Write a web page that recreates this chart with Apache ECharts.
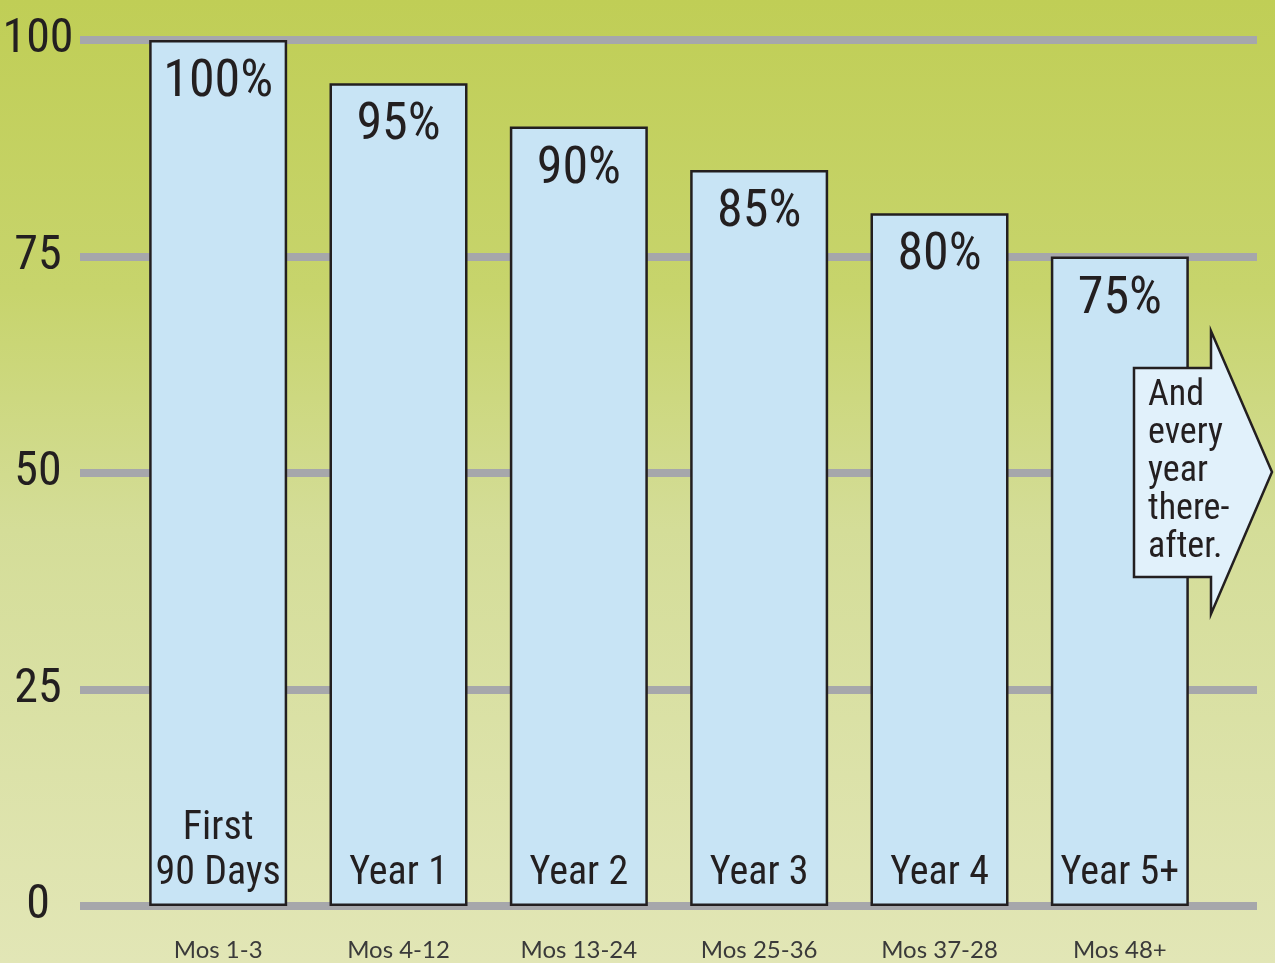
<!DOCTYPE html>
<html>
<head>
<meta charset="utf-8">
<script src="https://cdn.jsdelivr.net/npm/echarts@6/dist/echarts.min.js"></script>
<style>
html,body{margin:0;padding:0;}
#chart{width:1275px;height:963px;}
</style>
</head>
<body>
<div id="chart"></div>
<script>
var months = ['Mos 1-3', 'Mos 4-12', 'Mos 13-24', 'Mos 25-36', 'Mos 37-28', 'Mos 48+'];
var periods = ['First\n90 Days', 'Year 1', 'Year 2', 'Year 3', 'Year 4', 'Year 5+'];
var percents = [100, 95, 90, 85, 80, 75];
var yTicks = { min: 0, max: 100, interval: 25 };
var arrowNote = 'And\nevery\nyear\nthere-\nafter.';

var condensed = '"Roboto Condensed", "DejaVu Sans Condensed", sans-serif';
var ink = '#231f20';
var chart = echarts.init(document.getElementById('chart'));
chart.setOption({
  backgroundColor: {
    type: 'linear', x: 0, y: 0, x2: 0, y2: 1,
    colorStops: [
      { offset: 0, color: '#c0ce56' },
      { offset: 0.3, color: '#c7d46c' },
      { offset: 0.55, color: '#d4dd98' },
      { offset: 1, color: '#e2e6b6' }
    ]
  },
  animation: false,
  grid: [
    { left: 80, right: 18, top: 40, bottom: 57, outerBoundsMode: 'none' },
    { left: 128, right: 65, top: 40, bottom: 57, outerBoundsMode: 'none' }
  ],
  xAxis: [
    { gridIndex: 0, type: 'value', min: 0, max: 1, show: false },
    {
      gridIndex: 1, type: 'category', data: months,
      axisLine: { show: false }, axisTick: { show: false },
      axisLabel: { margin: 32, fontSize: 24, color: '#3a3a3a', fontFamily: 'Lato, "Open Sans", sans-serif' }
    }
  ],
  yAxis: [
    {
      gridIndex: 0, type: 'value', min: yTicks.min, max: yTicks.max, interval: yTicks.interval,
      axisLine: { show: false }, axisTick: { show: false },
      splitLine: { show: true, lineStyle: { color: '#a6a7ab', width: 8 } },
      axisLabel: { align: 'center', margin: 42, fontSize: 48, color: ink, fontFamily: condensed }
    },
    {
      gridIndex: 1, type: 'value', min: yTicks.min, max: yTicks.max, interval: yTicks.interval,
      show: false, splitLine: { show: false }
    }
  ],
  graphic: [
    {
      type: 'polygon', z: 100,
      shape: { points: [[1134, 368], [1211, 368], [1211, 331], [1272, 472], [1211, 614], [1211, 577], [1134, 577]] },
      style: { fill: '#e1f1fb', stroke: ink, lineWidth: 2.5 }
    },
    {
      type: 'text', z: 101, left: 1148, top: 377,
      style: { text: arrowNote, font: '36px ' + condensed, fill: ink, lineHeight: 38 }
    }
  ],
  series: [
    {
      type: 'bar', xAxisIndex: 1, yAxisIndex: 1, data: percents, barWidth: 138,
      itemStyle: { color: '#c8e4f5', borderColor: ink, borderWidth: 2.5 },
      label: {
        show: true, position: 'insideTop', distance: 17,
        formatter: function (p) { return p.value + '%'; },
        fontSize: 52, color: ink, fontFamily: condensed
      }
    },
    {
      type: 'bar', xAxisIndex: 1, yAxisIndex: 1, data: percents, barWidth: 138, barGap: '-100%',
      itemStyle: { color: 'rgba(0,0,0,0)' },
      label: {
        show: true, position: 'insideBottom', distance: 10,
        formatter: function (p) { return periods[p.dataIndex]; },
        fontSize: 40, lineHeight: 45, color: ink, fontFamily: condensed
      }
    }
  ]
});
</script>
</body>
</html>
